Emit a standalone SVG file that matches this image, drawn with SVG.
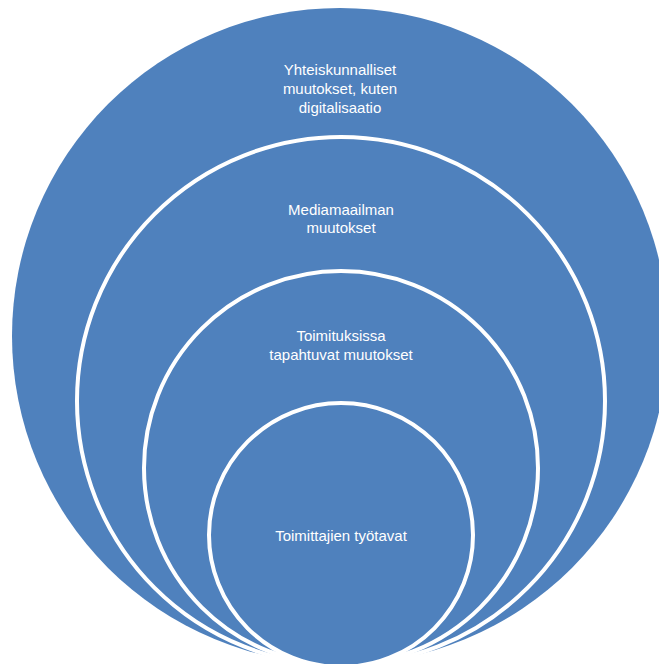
<svg xmlns="http://www.w3.org/2000/svg" width="659" height="664" viewBox="0 0 659 664">
  <style>
    .ring { fill: #4f81bd; stroke: #ffffff; stroke-width: 4; }
    .lbl { fill: #ffffff; font-family: "Liberation Sans", Arial, sans-serif; font-size: 15px; text-anchor: middle; }
  </style>
  <rect x="0" y="0" width="659" height="664" fill="#ffffff"/>
  <g id="node-yhteiskunnalliset">
    <circle class="ring" cx="340" cy="336" r="328" style="stroke:none"/>
    <text class="lbl" x="340" y="75">Yhteiskunnalliset</text>
    <text class="lbl" x="340" y="94">muutokset, kuten</text>
    <text class="lbl" x="340" y="113">digitalisaatio</text>
  </g>
  <g id="node-mediamaailman">
    <circle class="ring" cx="341" cy="401" r="264"/>
    <text class="lbl" x="341" y="215">Mediamaailman</text>
    <text class="lbl" x="341" y="233">muutokset</text>
  </g>
  <g id="node-toimituksissa">
    <circle class="ring" cx="341" cy="468" r="197"/>
    <text class="lbl" x="341" y="341">Toimituksissa</text>
    <text class="lbl" x="341" y="360">tapahtuvat muutokset</text>
  </g>
  <g id="node-toimittajien">
    <circle class="ring" cx="341" cy="535" r="132"/>
    <text class="lbl" x="341" y="541">Toimittajien työtavat</text>
  </g>
  <g id="connectors"></g>
</svg>
